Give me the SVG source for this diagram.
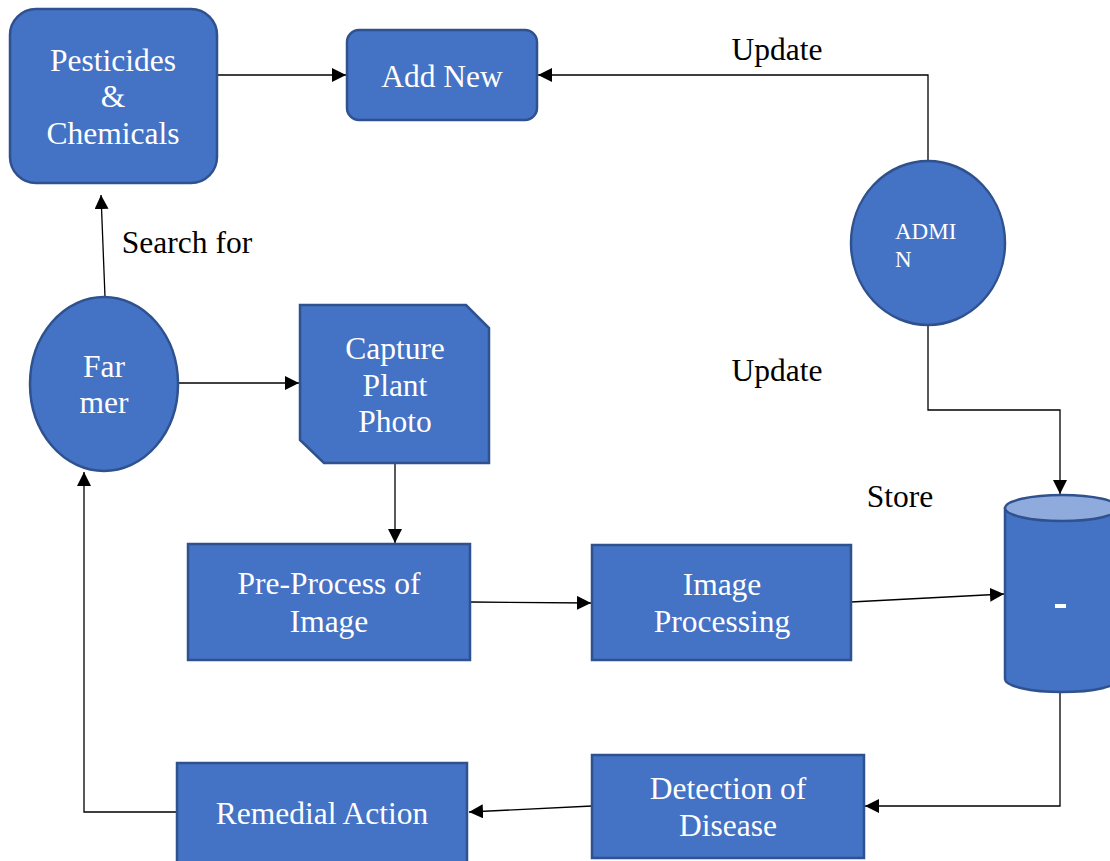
<svg xmlns="http://www.w3.org/2000/svg" width="1110" height="861" viewBox="0 0 1110 861">
<defs>
<style>
.n{fill:#4472C4;stroke:#2F528F;stroke-width:2.5}
.t{font-size:31.5px;fill:#ffffff;text-anchor:middle}
.l{font-size:31.5px;fill:#000000;text-anchor:middle}
.c{fill:none;stroke:#000000;stroke-width:1.3}
</style>
<marker id="a" viewBox="0 0 10 10" refX="10" refY="5" markerWidth="14" markerHeight="14" markerUnits="userSpaceOnUse" orient="auto">
<path d="M0,0 L10,5 L0,10 z" fill="#000"/>
</marker>
</defs>
<rect width="1110" height="861" fill="#ffffff"/>
<g id="connectors">
<path class="c" d="M217,75 L346,75" marker-end="url(#a)"/>
<path class="c" d="M928,161 L928,75 L538,75" marker-end="url(#a)"/>
<path class="c" d="M928,326 L928,410 L1060,410 L1060,494" marker-end="url(#a)"/>
<path class="c" d="M105,297 L101,195" marker-end="url(#a)"/>
<path class="c" d="M178,383 L299,383" marker-end="url(#a)"/>
<path class="c" d="M395,463 L395,543" marker-end="url(#a)"/>
<path class="c" d="M470,602 L591,603" marker-end="url(#a)"/>
<path class="c" d="M851,602 L1004,594" marker-end="url(#a)"/>
<path class="c" d="M1060,692 L1060,806 L865,806" marker-end="url(#a)"/>
<path class="c" d="M592,806 L469,812" marker-end="url(#a)"/>
<path class="c" d="M177,812 L84,812 L84,472" marker-end="url(#a)"/>
</g>
<g font-family="Liberation Serif, Times New Roman, DejaVu Serif, serif">
<g id="labels">
<text class="l" x="777" y="60">Update</text>
<text class="l" x="187" y="253">Search for</text>
<text class="l" x="777" y="381">Update</text>
<text class="l" x="900" y="507">Store</text>
</g>
<g id="pesticides">
<rect class="n" x="10" y="9" width="207" height="174" rx="26"/>
<text class="t" x="113" y="71">Pesticides</text>
<text class="t" x="113" y="107">&amp;</text>
<text class="t" x="113" y="144">Chemicals</text>
</g>
<g id="addnew">
<rect class="n" x="347" y="30" width="190" height="90" rx="12"/>
<text class="t" x="442" y="87">Add New</text>
</g>
<g id="admin">
<ellipse class="n" cx="928" cy="243" rx="77" ry="82"/>
<text class="t" x="895" y="239" style="font-size:23px;text-anchor:start">ADMI</text>
<text class="t" x="895" y="267" style="font-size:23px;text-anchor:start">N</text>
</g>
<g id="farmer">
<ellipse class="n" cx="104" cy="384" rx="74" ry="87"/>
<text class="t" x="104" y="377">Far</text>
<text class="t" x="104" y="413">mer</text>
</g>
<g id="capture">
<path class="n" d="M300,305 L466,305 L489,328 L489,463 L324,463 L300,440 Z"/>
<text class="t" x="395" y="359">Capture</text>
<text class="t" x="395" y="396">Plant</text>
<text class="t" x="395" y="432">Photo</text>
</g>
<g id="preprocess">
<rect class="n" x="188" y="544" width="282" height="116"/>
<text class="t" x="329" y="594">Pre-Process of</text>
<text class="t" x="329" y="632">Image</text>
</g>
<g id="imageprocessing">
<rect class="n" x="592" y="545" width="259" height="115"/>
<text class="t" x="722" y="595">Image</text>
<text class="t" x="722" y="632">Processing</text>
</g>
<g id="database">
<path class="n" d="M1005,508 L1005,679 A57,13 0 0 0 1119,679 L1119,508 Z"/>
<ellipse cx="1062" cy="508" rx="57" ry="13" fill="#8FAADC" stroke="#2F528F" stroke-width="2.5"/>
<rect x="1055" y="604" width="11" height="4" fill="#ffffff"/>
</g>
<g id="detection">
<rect class="n" x="592" y="755" width="272" height="103"/>
<text class="t" x="728" y="799">Detection of</text>
<text class="t" x="728" y="836">Disease</text>
</g>
<g id="remedial">
<rect class="n" x="177" y="763" width="290" height="100"/>
<text class="t" x="322" y="824">Remedial Action</text>
</g>
</g>
</svg>
